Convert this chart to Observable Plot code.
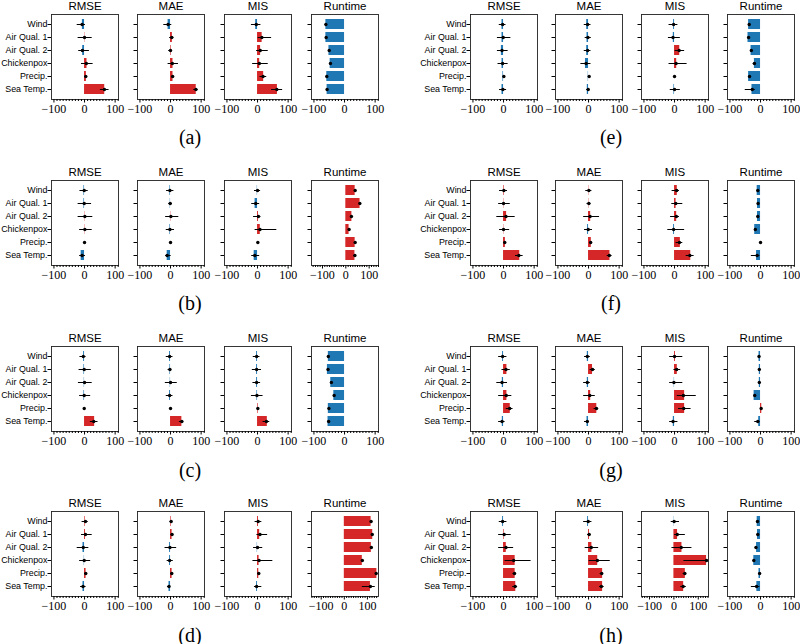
<!DOCTYPE html>
<html>
<head>
<meta charset="utf-8">
<script src="https://cdn.jsdelivr.net/npm/d3@7"></script>
<script src="https://cdn.jsdelivr.net/npm/@observablehq/plot@0.6"></script>
<style>
  body { margin: 0; background: white; }
  #root { position: relative; width: 800px; height: 644px; overflow: hidden; background: white; }
  .sub { position: absolute; }
  .cap { position: absolute; font-family: "Liberation Serif", serif; font-size: 20px; transform: translate(-50%, -50%); white-space: nowrap; }
</style>
</head>
<body>
<div id="root"></div>
<script>
// ---------------- data ----------------
const categories = ["Wind", "Air Qual. 1", "Air Qual. 2", "Chickenpox", "Precip.", "Sea Temp."];
const metrics = ["RMSE", "MAE", "MIS", "Runtime"];
const panelLabels = ["a", "b", "c", "d", "e", "f", "g", "h"];
const majorTicks = [-100, 0, 100];

// rows: RMSE, MAE, MIS, Runtime ; columns follow categories
const barA = [[-7, 1, -6, 8, 6, 66], [-8, 6, 2, 8, 8, 84], [-6, 15, 10, 7, 20, 65], [-61, -61, -51, -47, -58, -57]];
const dotA = [[-8, 0, -7, 6, 4, 65], [-8, 4, 0, 6, 7, 83], [-4, 14, 9, 6, 18, 63], [-61, -60, -50, -46, -58, -57]];
const loA  = [[-24, -21, -19, -10, 0, 52], [-22, -3, -6, -8, 3, 76], [-20, 2, -3, -16, 8, 46], [-63, -62, -52, -48, -60, -59]];
const hiA  = [[3, 25, 16, 28, 10, 80], [4, 11, 6, 26, 11, 90], [11, 46, 35, 35, 30, 82], [-59, -58, -48, -44, -56, -55]];

const barB = [[-2, -2, 1, 1, 0, -11], [-2, -1, 1, -2, 0, -11], [-1, -8, 3, 9, 0, -11], [40, 61, 26, 14, 40, 39]];
const dotB = [[-1, -1, 1, 1, 0, -8], [-2, -1, 1, -2, 0, -11], [0, -6, 3, 8, 1, -9], [40, 60, 24, 14, 40, 39]];
const loB  = [[-15, -21, -21, -16, -2, -16], [-13, -6, -16, -14, -2, -16], [-10, -19, -13, -8, -1, -19], [38, 58, 22, 12, 38, 34]];
const hiB  = [[12, 23, 27, 25, 2, 3], [11, 6, 27, 13, 2, 2], [10, 7, 11, 63, 3, 7], [42, 62, 26, 16, 42, 44]];

const barC = [[-3, -2, -1, -2, 0, 33], [-3, -2, -1, -3, 0, 37], [-3, -3, -3, -2, 2, 32], [-53, -56, -45, -35, -53, -54]];
const dotC = [[-4, -1, 0, -1, -1, 30], [-3, -2, 0, -3, 0, 37], [-3, -3, -3, -2, 1, 29], [-53, -54, -43, -34, -51, -52]];
const loC  = [[-15, -18, -20, -16, -2, 19], [-14, -8, -17, -14, -2, 29], [-14, -17, -15, -20, 0, 18], [-55, -56, -45, -36, -53, -54]];
const hiC  = [[5, 22, 25, 20, 1, 44], [8, 4, 22, 8, 2, 43], [8, 13, 10, 18, 3, 40], [-51, -52, -41, -32, -49, -50]];

const barD = [[2, 3, -5, -1, 5, -5], [2, 5, -3, -3, 5, -5], [3, 7, -1, 5, 4, -3], [116, 123, 117, 78, 141, 113]];
const dotD = [[3, 3, -4, -1, 4, -5], [2, 5, -2, -3, 4, -5], [2, 8, 0, 5, 4, -3], [116, 121, 117, 78, 138, 113]];
const loD  = [[-8, -10, -24, -16, 0, -13], [-2, 2, -18, -11, 1, -10], [-8, -2, -13, -15, 0, -10], [114, 119, 115, 76, 136, 78]];
const hiD  = [[12, 25, 14, 20, 9, 5], [6, 8, 20, 9, 7, 0], [14, 33, 17, 50, 9, 14], [118, 123, 119, 80, 140, 134]];

const barE = [[-5, -5, -7, -5, -2, -5], [-6, -5, -6, -10, -1, -4], [-3, -4, 17, 7, 0, -2], [-39, -41, -31, -20, -39, -28]];
const dotE = [[-3, -1, -5, -3, 1, -2], [-3, -2, -3, -8, 2, -1], [-3, -5, 15, 5, 0, 0], [-37, -39, -30, -20, -36, -27]];
const loE  = [[-14, -20, -20, -18, 0, -13], [-14, -11, -14, -25, 1, -6], [-18, -20, 2, -18, -1, -14], [-39, -41, -32, -24, -38, -50]];
const hiE  = [[8, 24, 15, 15, 2, 10], [8, 9, 8, 8, 3, 4], [11, 19, 33, 41, 1, 19], [-35, -37, -28, -16, -34, -17]];

const barF = [[2, 1, 10, 1, 6, 53], [1, 1, 7, -3, 9, 70], [9, 5, 7, -3, 19, 53], [-11, -10, -10, -19, 0, -13]];
const dotF = [[1, 0, 8, 0, 4, 50], [1, 1, 5, -1, 7, 68], [7, 4, 6, -3, 16, 50], [-9, -8, -9, -17, 0, -11]];
const loF  = [[-13, -16, -22, -13, 2, 39], [-9, -5, -16, -13, 4, 61], [-8, -9, -13, -22, 5, 38], [-11, -10, -11, -19, -1, -30]];
const hiF  = [[13, 22, 38, 20, 7, 64], [11, 8, 36, 13, 10, 77], [16, 27, 16, 33, 27, 64], [-7, -6, -7, -15, 1, -2]];

const barG = [[-3, 11, -4, 11, 22, -4], [-4, 13, -4, 7, 27, -5], [3, 9, -1, 33, 33, -4], [-5, -4, -4, -21, 4, -6]];
const dotG = [[-3, 8, -5, 9, 20, -5], [-4, 13, -4, 4, 26, -4], [0, 7, -2, 29, 30, -5], [-5, -4, -4, -19, 2, -9]];
const loG  = [[-16, -5, -22, -16, 9, -16], [-13, 5, -16, -16, 18, -13], [-16, -2, -16, 9, 13, -16], [-7, -6, -6, -21, 0, -19]];
const hiG  = [[11, 22, 13, 27, 31, 5], [6, 22, 6, 22, 33, 3], [27, 20, 27, 71, 54, 11], [-3, -2, -2, -17, 4, -2]];

const barH = [[-3, 2, 9, 38, 38, 40], [-3, 3, 11, 30, 46, 46], [-1, 15, 33, 134, 47, 40], [-11, -10, -13, -22, -5, -12]];
const dotH = [[-3, 2, 8, 33, 36, 38], [-1, 2, 9, 29, 43, 42], [1, 14, 30, 134, 45, 38], [-10, -9, -15, -22, -3, -13]];
const loH  = [[-14, -16, -16, 5, 31, 30], [-16, -3, -11, 2, 38, 36], [-11, 3, -8, 41, 38, 28], [-12, -11, -17, -24, -5, -30]];
const hiH  = [[11, 25, 33, 90, 41, 46], [11, 8, 33, 71, 49, 51], [23, 47, 74, 134, 52, 51], [-8, -7, -13, -20, -1, -2]];

const panelsData = [
  [barA, dotA, loA, hiA], [barB, dotB, loB, hiB], [barC, dotC, loC, hiC], [barD, dotD, loD, hiD],
  [barE, dotE, loE, hiE], [barF, dotF, loF, hiF], [barG, dotG, loG, hiG], [barH, dotH, loH, hiH]
];

// ---------------- layout / scale config ----------------
const defaultDomain = [-108, 111];
const domainOverride = { "b-Runtime": [-147, 140], "d-Runtime": [-142, 148], "h-MIS": [-133, 142] };

const RED = "#d62728", BLUE = "#1f77b4";
const W = 67, H = 85, ML = 6, MR = 2, MT = 18, MB = 22;
const frameTops = [14, 180, 346, 511];
const frameLefts = [[51, 137, 224, 311], [470, 555, 641, 727]];
const capX = [190, 611];
const capY = [137, 303, 470, 635];
const SANS = "Liberation Sans, Arial, sans-serif";
const SERIF = "Liberation Serif, serif";
const fmt = v => v < 0 ? "\u2212" + Math.abs(v) : String(v);

const root = document.getElementById("root");

function subplot(bars, dots, los, his, domain, title, showLabels) {
  const rows = categories.map((c, i) => ({cat: c, bar: bars[i], dot: dots[i], lo: los[i], hi: his[i]}));
  const majors = majorTicks.filter(v => v >= domain[0] && v <= domain[1]);
  const minors = d3.range(-150, 151, 10).filter(v => v >= domain[0] && v <= domain[1] && v % 100 !== 0);
  return Plot.plot({
    width: ML + W + MR, height: MT + H + MB,
    marginLeft: ML, marginRight: MR, marginTop: MT, marginBottom: MB,
    x: {domain, label: null},
    y: {domain: categories, paddingInner: 0.2, paddingOuter: 0.285, label: null},
    style: {background: "transparent", overflow: "visible", fontFamily: SANS, fontSize: "8.9px", color: "black"},
    marks: [
      Plot.barX(rows, {y: "cat", x1: () => 0, x2: "bar", fill: d => d.bar >= 0 ? RED : BLUE}),
      Plot.ruleY(rows, {y: "cat", x1: "lo", x2: "hi", stroke: "black", strokeWidth: 1}),
      Plot.dot(rows, {y: "cat", x: "dot", r: 1.7, fill: "black", stroke: null}),
      Plot.frame({stroke: "#222", strokeWidth: 0.9}),
      Plot.axisX({ticks: majors, tickSize: 3.5, tickPadding: 1, tickFormat: fmt, fontFamily: SERIF, fontSize: 12, label: null}),
      Plot.axisX({ticks: minors, tickSize: 2, tickFormat: () => "", label: null}),
      Plot.axisY({tickSize: 3.5, tickPadding: 0.5, tickFormat: showLabels ? (d => d) : (() => ""), label: null, fontSize: 8.9, fontFamily: SANS}),
      Plot.text([title], {frameAnchor: "top", lineAnchor: "middle", dy: -8.5, fontSize: 11.5, fontFamily: SANS})
    ]
  });
}

panelLabels.forEach((p, pi) => {
  const col = pi < 4 ? 0 : 1, row = pi % 4;
  const [bar, dot, lo, hi] = panelsData[pi];
  metrics.forEach((m, mi) => {
    const domain = domainOverride[p + "-" + m] || defaultDomain;
    const svg = subplot(bar[mi], dot[mi], lo[mi], hi[mi], domain, m, mi === 0);
    const wrap = document.createElement("div");
    wrap.className = "sub";
    wrap.style.left = (frameLefts[col][mi] - ML) + "px";
    wrap.style.top = (frameTops[row] - MT) + "px";
    wrap.appendChild(svg);
    root.appendChild(wrap);
  });
  const cap = document.createElement("div");
  cap.className = "cap";
  cap.style.left = capX[col] + "px";
  cap.style.top = capY[row] + "px";
  cap.textContent = "(" + p + ")";
  root.appendChild(cap);
});
</script>
</body>
</html>
